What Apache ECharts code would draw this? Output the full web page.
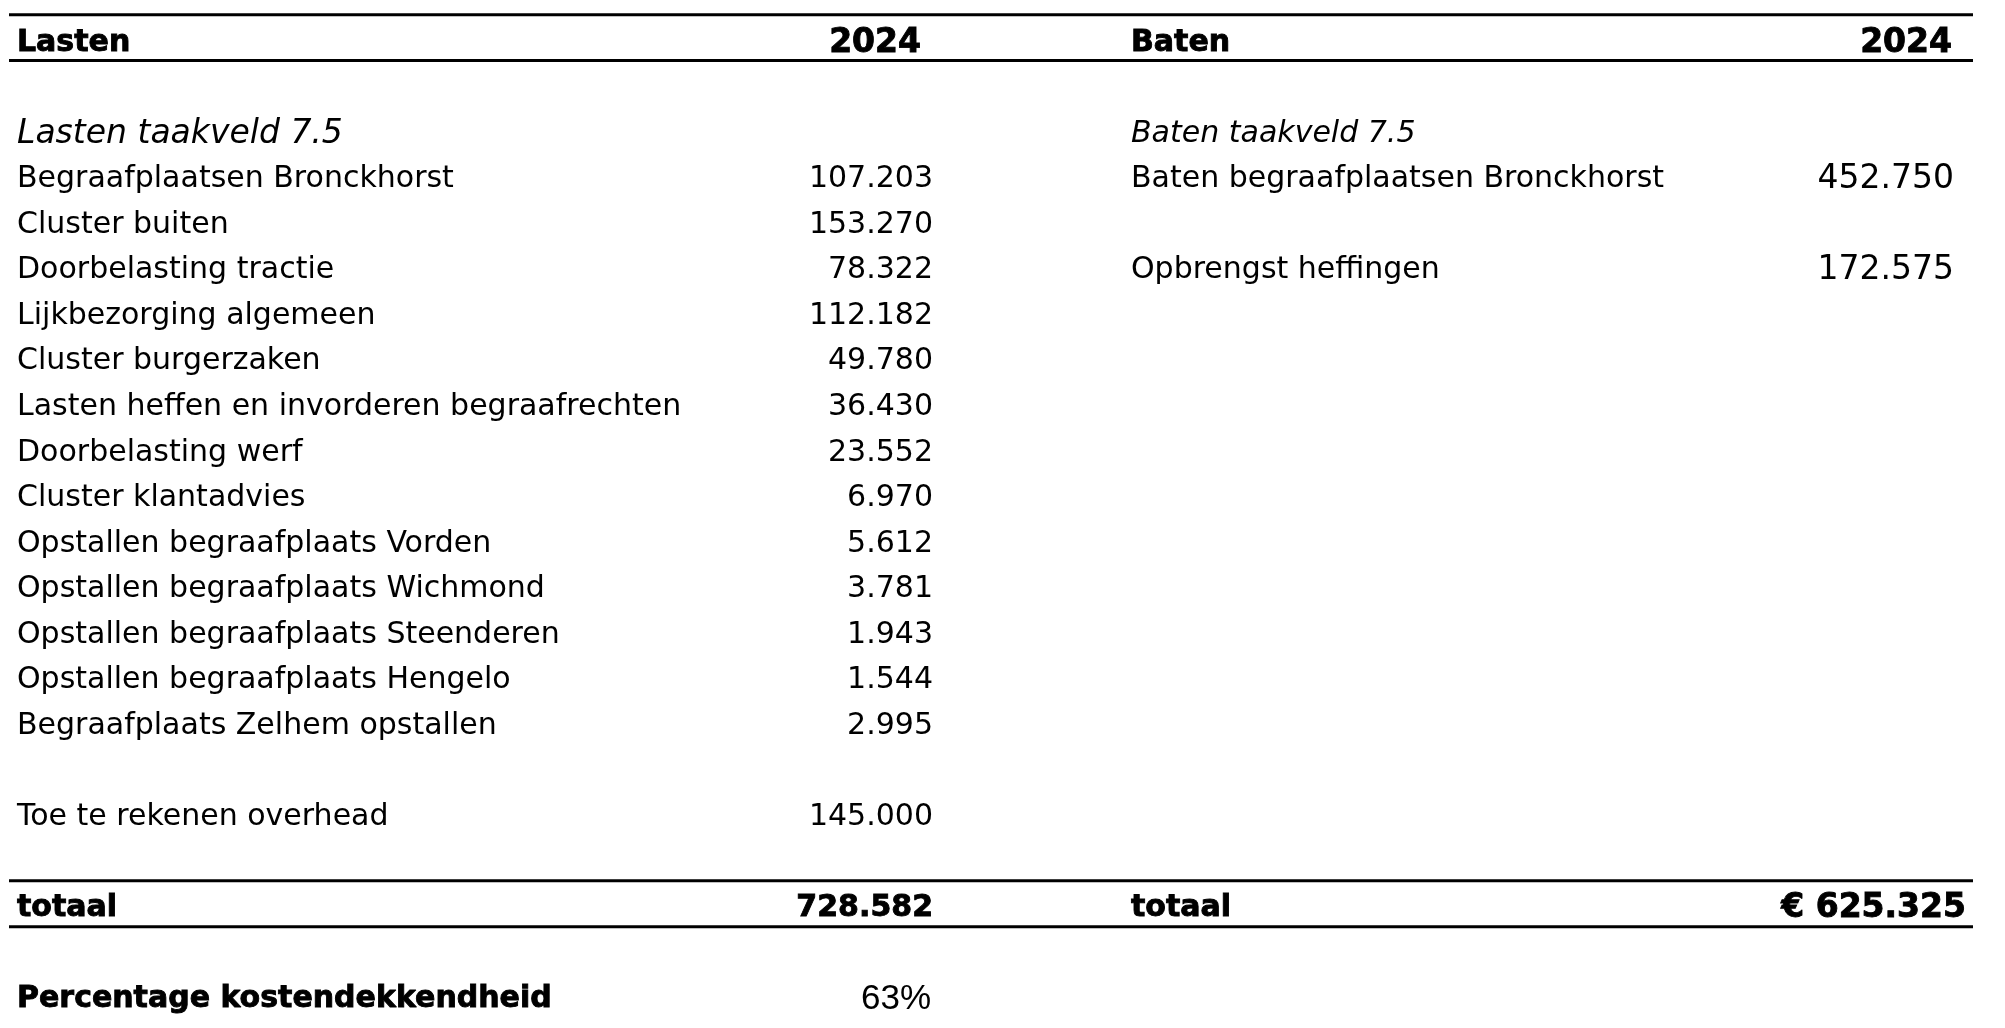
<!DOCTYPE html>
<html>
<head>
<meta charset="utf-8">
<script src="https://cdn.jsdelivr.net/npm/echarts@6/dist/echarts.min.js"></script>
<style>
html,body{margin:0;padding:0;background:#fff;}
#chart{width:2005px;height:1028px;}
</style>
</head>
<body>
<div id="chart"></div>
<script>
// ---------- data ----------
const headerLeft = 'Lasten';
const headerRight = 'Baten';
const yearLabel = '2024';
const lastenSection = 'Lasten taakveld 7.5';
const batenSection = 'Baten taakveld 7.5';
const lastenLabels = [
  'Begraafplaatsen Bronckhorst',
  'Cluster buiten',
  'Doorbelasting tractie',
  'Lijkbezorging algemeen',
  'Cluster burgerzaken',
  'Lasten heffen en invorderen begraafrechten',
  'Doorbelasting werf',
  'Cluster klantadvies',
  'Opstallen begraafplaats Vorden',
  'Opstallen begraafplaats Wichmond',
  'Opstallen begraafplaats Steenderen',
  'Opstallen begraafplaats Hengelo',
  'Begraafplaats Zelhem opstallen'
];
const lastenValues = [107203, 153270, 78322, 112182, 49780, 36430, 23552, 6970, 5612, 3781, 1943, 1544, 2995];
const batenLabels = ['Baten begraafplaatsen Bronckhorst', null, 'Opbrengst heffingen'];
const batenValues = [452750, null, 172575];
const overheadLabel = 'Toe te rekenen overhead';
const overheadValue = 145000;
const totalLabel = 'totaal';
const totalLasten = 728582;
const totalBaten = 625325;
const pctLabel = 'Percentage kostendekkendheid';
const pctValue = 63;

// ---------- layout ----------
const X = {labL: 17, valL: 933, yearL: 921, labR: 1131, valR: 1954, yearR: 1952, totR: 1966, ruleL: 9, ruleR: 1973};
const ROW = {header: -2, section: 0, first: 1, overhead: 15, total: 17, pct: 19};
const RULES = [-2.53, -1.53, 16.49, 17.5];
const TEXT_DY = 4;
const FF = "'DejaVu Sans', Verdana, sans-serif";
const F = {
  body: '30px ' + FF,
  bold: 'bold 30px ' + FF,
  year: 'bold 33px ' + FF,
  itL: 'italic 33px ' + FF,
  itR: 'italic 30px ' + FF,
  valR: '33px ' + FF,
  totR: 'bold 33px ' + FF,
  pct: "35px 'Liberation Sans', Arial, sans-serif"
};

function fmt(n) {
  return String(n).replace(/\B(?=(\d{3})+(?!\d))/g, '.');
}

// ---------- build text cells ----------
const cells = [];
function cell(x, row, text, font, align, heavy) { cells.push({x, row, text, font, align, heavy: !!heavy}); }
cell(X.labL, ROW.header, headerLeft, F.bold, 'left', true);
cell(X.yearL, ROW.header, yearLabel, F.year, 'right', true);
cell(X.labR, ROW.header, headerRight, F.bold, 'left', true);
cell(X.yearR, ROW.header, yearLabel, F.year, 'right', true);
cell(X.labL, ROW.section, lastenSection, F.itL, 'left');
cell(X.labR, ROW.section, batenSection, F.itR, 'left');
lastenLabels.forEach((l, i) => {
  cell(X.labL, ROW.first + i, l, F.body, 'left');
  cell(X.valL, ROW.first + i, fmt(lastenValues[i]), F.body, 'right');
});
batenLabels.forEach((l, i) => {
  if (l == null) return;
  cell(X.labR, ROW.first + i, l, F.body, 'left');
  cell(X.valR, ROW.first + i, fmt(batenValues[i]), F.valR, 'right');
});
cell(X.labL, ROW.overhead, overheadLabel, F.body, 'left');
cell(X.valL, ROW.overhead, fmt(overheadValue), F.body, 'right');
cell(X.labL, ROW.total, totalLabel, F.bold, 'left', true);
cell(X.valL, ROW.total, fmt(totalLasten), F.bold, 'right', true);
cell(X.labR, ROW.total, totalLabel, F.bold, 'left', true);
cell(X.totR, ROW.total, '€ ' + fmt(totalBaten), F.totR, 'right', true);
cell(X.labL, ROW.pct, pctLabel, F.bold, 'left', true);
cell(X.valL - 2, ROW.pct, pctValue + '%', F.pct, 'right');

const chart = echarts.init(document.getElementById('chart'), null, {renderer: 'canvas'});
chart.setOption({
  backgroundColor: '#ffffff',
  animation: false,
  grid: {left: 0, right: 0, top: 39, bottom: 33, containLabel: false},
  xAxis: {type: 'value', min: 0, max: 2005, show: false},
  yAxis: {type: 'value', min: -2, max: 19, inverse: true, show: false},
  series: [
    {
      type: 'custom',
      coordinateSystem: 'cartesian2d',
      data: RULES.map(r => [X.ruleL, X.ruleR, r]),
      renderItem: function (params, api) {
        const a = api.coord([api.value(0), api.value(2)]);
        const b = api.coord([api.value(1), api.value(2)]);
        return {type: 'rect', shape: {x: a[0], y: a[1] - 1.5, width: b[0] - a[0], height: 3}, style: {fill: '#000'}};
      },
      silent: true
    },
    {
      type: 'custom',
      coordinateSystem: 'cartesian2d',
      data: cells.map((c, i) => [c.x, c.row, i]),
      renderItem: function (params, api) {
        const c = cells[api.value(2)];
        const p = api.coord([api.value(0), api.value(1)]);
        const style = {text: c.text, x: p[0], y: p[1] + TEXT_DY, font: c.font, align: c.align, verticalAlign: 'middle', fill: '#000'};
        if (c.heavy) { style.stroke = '#000'; style.lineWidth = 0.9; }
        return {type: 'text', style: style};
      },
      silent: true
    }
  ]
});
</script>
</body>
</html>
